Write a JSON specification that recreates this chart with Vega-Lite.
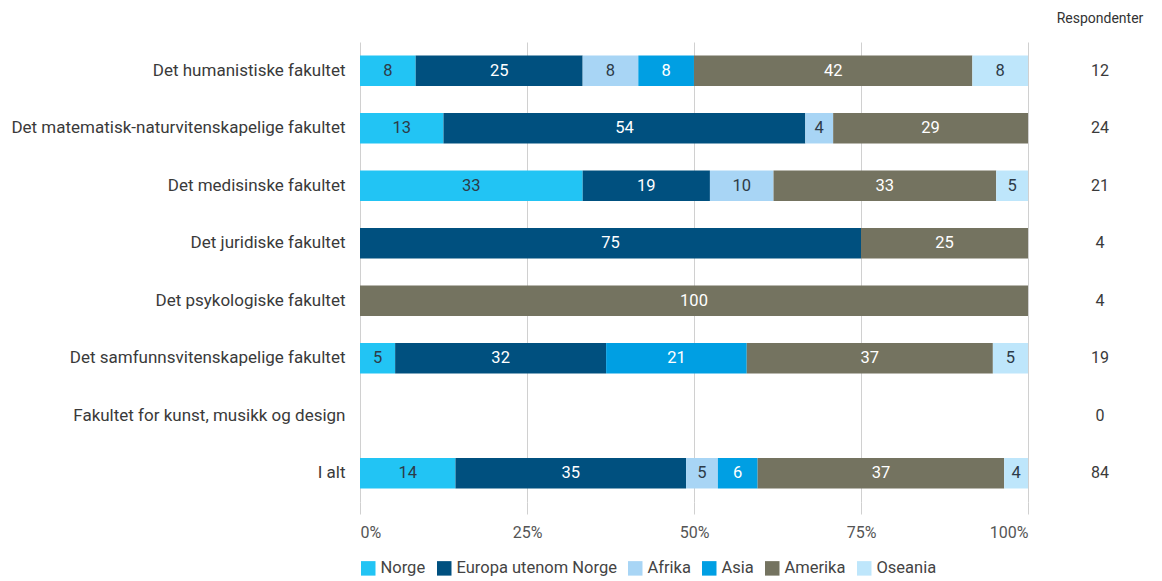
{
  "$schema": "https://vega.github.io/schema/vega-lite/v6.json",
  "background": "white",
  "padding": {"left": 10, "top": 12, "right": 5, "bottom": 5},
  "bounds": "flush",
  "spacing": 12,
  "config": {"view": {"stroke": null}, "font": "Roboto"},
  "datasets": {
    "andeler": [
      {"fakultet": "Det humanistiske fakultet", "region": "Norge", "prosent": 8.33},
      {"fakultet": "Det humanistiske fakultet", "region": "Europa utenom Norge", "prosent": 25},
      {"fakultet": "Det humanistiske fakultet", "region": "Afrika", "prosent": 8.33},
      {"fakultet": "Det humanistiske fakultet", "region": "Asia", "prosent": 8.33},
      {"fakultet": "Det humanistiske fakultet", "region": "Amerika", "prosent": 41.67},
      {"fakultet": "Det humanistiske fakultet", "region": "Oseania", "prosent": 8.33},
      {"fakultet": "Det matematisk-naturvitenskapelige fakultet", "region": "Norge", "prosent": 12.5},
      {"fakultet": "Det matematisk-naturvitenskapelige fakultet", "region": "Europa utenom Norge", "prosent": 54.17},
      {"fakultet": "Det matematisk-naturvitenskapelige fakultet", "region": "Afrika", "prosent": 4.17},
      {"fakultet": "Det matematisk-naturvitenskapelige fakultet", "region": "Amerika", "prosent": 29.17},
      {"fakultet": "Det medisinske fakultet", "region": "Norge", "prosent": 33.33},
      {"fakultet": "Det medisinske fakultet", "region": "Europa utenom Norge", "prosent": 19.05},
      {"fakultet": "Det medisinske fakultet", "region": "Afrika", "prosent": 9.52},
      {"fakultet": "Det medisinske fakultet", "region": "Amerika", "prosent": 33.33},
      {"fakultet": "Det medisinske fakultet", "region": "Oseania", "prosent": 4.76},
      {"fakultet": "Det juridiske fakultet", "region": "Europa utenom Norge", "prosent": 75},
      {"fakultet": "Det juridiske fakultet", "region": "Amerika", "prosent": 25},
      {"fakultet": "Det psykologiske fakultet", "region": "Amerika", "prosent": 100},
      {"fakultet": "Det samfunnsvitenskapelige fakultet", "region": "Norge", "prosent": 5.26},
      {"fakultet": "Det samfunnsvitenskapelige fakultet", "region": "Europa utenom Norge", "prosent": 31.58},
      {"fakultet": "Det samfunnsvitenskapelige fakultet", "region": "Asia", "prosent": 21.05},
      {"fakultet": "Det samfunnsvitenskapelige fakultet", "region": "Amerika", "prosent": 36.84},
      {"fakultet": "Det samfunnsvitenskapelige fakultet", "region": "Oseania", "prosent": 5.26},
      {"fakultet": "I alt", "region": "Norge", "prosent": 14.29},
      {"fakultet": "I alt", "region": "Europa utenom Norge", "prosent": 34.52},
      {"fakultet": "I alt", "region": "Afrika", "prosent": 4.76},
      {"fakultet": "I alt", "region": "Asia", "prosent": 5.95},
      {"fakultet": "I alt", "region": "Amerika", "prosent": 36.9},
      {"fakultet": "I alt", "region": "Oseania", "prosent": 3.57}
    ],
    "respondenter": [
      {"fakultet": "Det humanistiske fakultet", "antall": 12},
      {"fakultet": "Det matematisk-naturvitenskapelige fakultet", "antall": 24},
      {"fakultet": "Det medisinske fakultet", "antall": 21},
      {"fakultet": "Det juridiske fakultet", "antall": 4},
      {"fakultet": "Det psykologiske fakultet", "antall": 4},
      {"fakultet": "Det samfunnsvitenskapelige fakultet", "antall": 19},
      {"fakultet": "Fakultet for kunst, musikk og design", "antall": 0},
      {"fakultet": "I alt", "antall": 84}
    ]
  },
  "hconcat": [
    {
      "width": 668,
      "height": 460,
      "data": {"name": "andeler"},
      "transform": [
        {"calculate": "indexof(['Norge','Europa utenom Norge','Afrika','Asia','Amerika','Oseania'], datum.region)", "as": "rekkefolge"},
        {"stack": "prosent", "groupby": ["fakultet"], "sort": [{"field": "rekkefolge", "order": "ascending"}], "offset": "normalize", "as": ["p0", "p1"]},
        {"calculate": "(datum.p0 + datum.p1) / 2", "as": "pm"}
      ],
      "encoding": {
        "y": {
          "field": "fakultet",
          "type": "nominal",
          "scale": {
            "domain": ["Det humanistiske fakultet", "Det matematisk-naturvitenskapelige fakultet", "Det medisinske fakultet", "Det juridiske fakultet", "Det psykologiske fakultet", "Det samfunnsvitenskapelige fakultet", "Fakultet for kunst, musikk og design", "I alt"],
            "paddingInner": 0.47,
            "paddingOuter": 0.235
          },
          "axis": {"title": null, "ticks": false, "domain": false, "labelPadding": 15, "labelFontSize": 17, "labelColor": "#3a3a3a", "labelLimit": 400}
        }
      },
      "layer": [
        {
          "mark": {"type": "bar"},
          "encoding": {
            "x": {
              "field": "p0",
              "type": "quantitative",
              "scale": {"domain": [0, 1], "nice": false},
              "axis": {"title": null, "values": [0, 0.25, 0.5, 0.75, 1], "format": ".0%", "grid": true, "gridColor": "#d0d0d0", "ticks": true, "tickSize": 12, "tickColor": "#d0d0d0", "domain": false, "labelPadding": 10, "labelFontSize": 16, "labelColor": "#555555"}
            },
            "x2": {"field": "p1"},
            "color": {
              "field": "region",
              "type": "nominal",
              "scale": {
                "domain": ["Norge", "Europa utenom Norge", "Afrika", "Asia", "Amerika", "Oseania"],
                "range": ["#22c4f4", "#00507f", "#a8d5f5", "#009fe3", "#747360", "#bee6fb"]
              },
              "legend": {"title": null, "orient": "bottom", "direction": "horizontal", "symbolType": "square", "symbolSize": 210, "symbolStrokeWidth": 0, "labelFontSize": 16.5, "labelColor": "#444444", "labelLimit": 300, "columnPadding": 10, "labelOffset": 4, "offset": 20}
            }
          }
        },
        {
          "transform": [{"filter": {"field": "region", "oneOf": ["Norge", "Afrika", "Oseania"]}}],
          "mark": {"type": "text", "color": "#2d3b48", "fontSize": 16.5},
          "encoding": {
            "x": {"field": "pm", "type": "quantitative"},
            "text": {"field": "prosent", "type": "quantitative", "format": ".0f"}
          }
        },
        {
          "transform": [{"filter": {"field": "region", "oneOf": ["Europa utenom Norge", "Asia", "Amerika"]}}],
          "mark": {"type": "text", "color": "#ffffff", "fontSize": 16.5},
          "encoding": {
            "x": {"field": "pm", "type": "quantitative"},
            "text": {"field": "prosent", "type": "quantitative", "format": ".0f"}
          }
        }
      ]
    },
    {
      "width": 120,
      "height": 460,
      "data": {"name": "respondenter"},
      "title": {"text": "Respondenter", "fontSize": 14, "fontWeight": "normal", "color": "#333333", "offset": 16},
      "mark": {"type": "text", "fontSize": 16, "color": "#3a3a3a"},
      "encoding": {
        "y": {
          "field": "fakultet",
          "type": "nominal",
          "scale": {
            "domain": ["Det humanistiske fakultet", "Det matematisk-naturvitenskapelige fakultet", "Det medisinske fakultet", "Det juridiske fakultet", "Det psykologiske fakultet", "Det samfunnsvitenskapelige fakultet", "Fakultet for kunst, musikk og design", "I alt"],
            "paddingInner": 0.47,
            "paddingOuter": 0.235
          },
          "axis": null
        },
        "text": {"field": "antall", "type": "quantitative"}
      }
    }
  ]
}
